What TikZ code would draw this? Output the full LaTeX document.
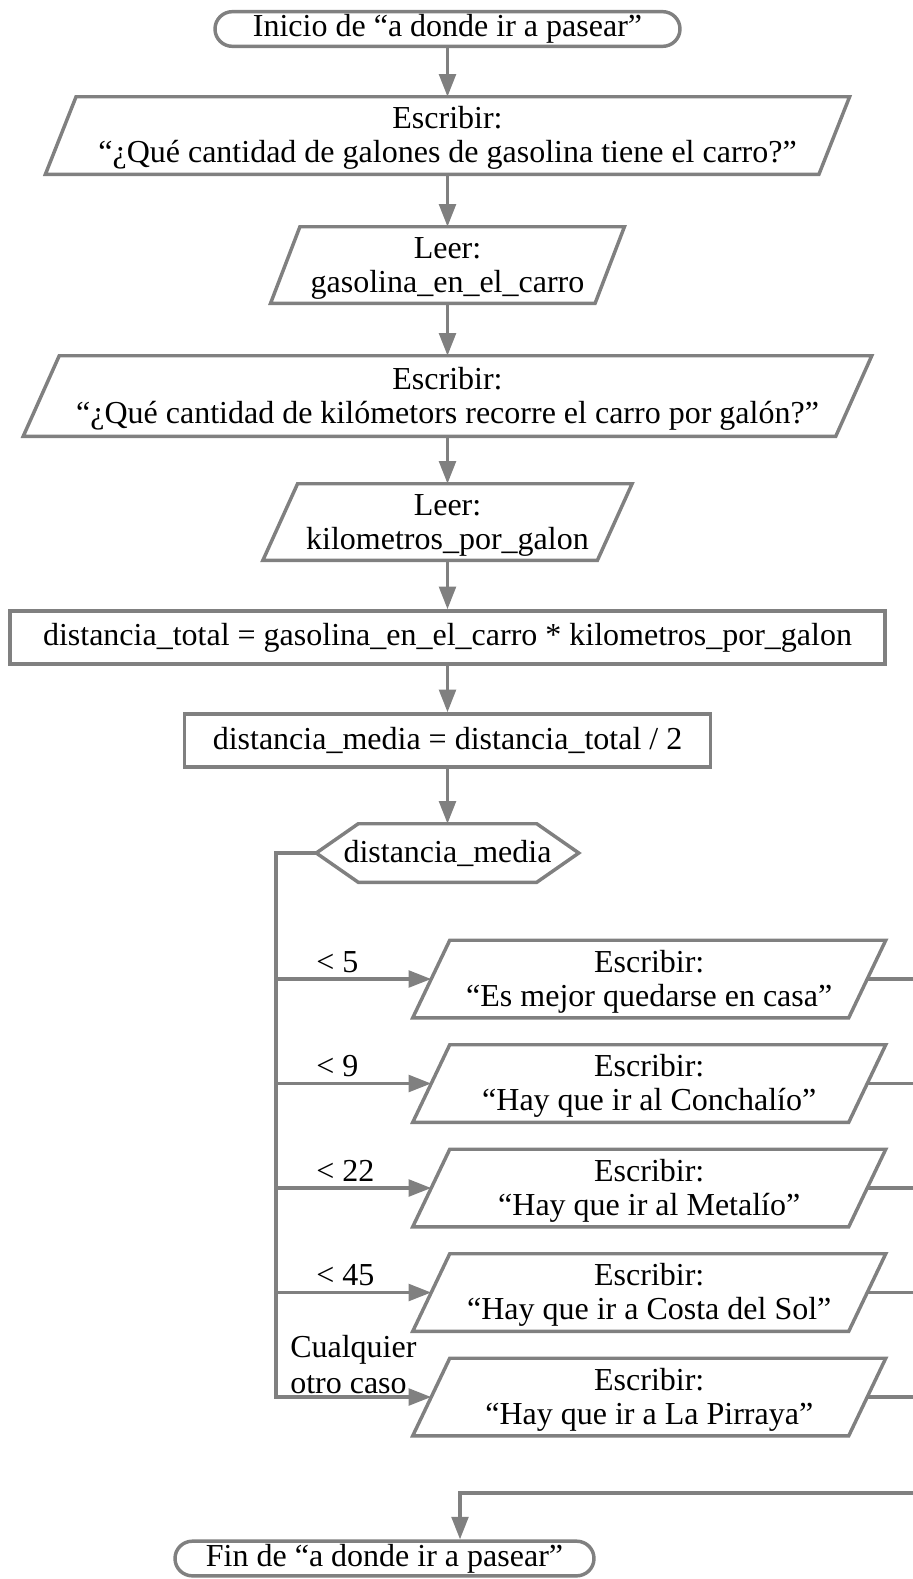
\documentclass[tikz,border=0pt]{standalone}
\usepackage{fontspec}
\setmainfont{Liberation Serif}
\usetikzlibrary{arrows.meta,calc}
\definecolor{lc}{RGB}{128,128,128}
\newcommand{\slantbox}[2]{\draw[shapeline] ([xshift=#2]#1.north west) -- ([xshift=#2]#1.north east) -- ([xshift=-#2]#1.south east) -- ([xshift=-#2]#1.south west) -- cycle;}
\newcommand{\hexbox}[2]{\draw[shapeline] (#1.west) -- ([xshift=#2]#1.north west) -- ([xshift=-#2]#1.north east) -- (#1.east) -- ([xshift=-#2]#1.south east) -- ([xshift=#2]#1.south west) -- cycle;}
\newcommand{\fl}{\rule{0pt}{20.5pt}}
\tikzset{
  txt/.style={font=\fontsize{24pt}{25.5pt}\selectfont, text=black, align=center, inner sep=0pt},
  term/.style={txt, draw=lc, line width=2.6pt, rounded corners=13pt, minimum height=26pt},
  procbox/.style={txt, draw=lc, line width=2.6pt, minimum height=39.75pt},
  iobox/.style={txt, minimum height=57.75pt},
  casebox/.style={txt, minimum width=326.6pt, minimum height=57.75pt},
  shapeline/.style={draw=lc, line width=2.6pt},
  conn/.style={draw=lc, line width=2.6pt},
  arr/.style={conn, -{Triangle[length=17pt,width=12.5pt]}},
  lbl/.style={font=\fontsize{24pt}{27pt}\selectfont, text=black, inner sep=0pt, align=left},
}
\begin{document}
\begin{tikzpicture}[x=0.75pt,y=-0.75pt]
\useasboundingbox (0,0) rectangle (913,1579);
\clip (0,0) rectangle (913,1579);

\node[term, minimum width=348.75pt] (start) at (447.5,29) {Inicio de “a donde ir a pasear”};

\node[iobox, minimum width=579.75pt] (p1) at (447.5,135.5) {\fl Escribir:\\“¿Qué cantidad de galones de gasolina tiene el carro?”};
\slantbox{p1}{11.5pt}

\node[iobox, minimum width=243pt, minimum height=57pt] (r1) at (447.5,265) {\fl Leer:\\gasolina\_en\_el\_carro};
\slantbox{r1}{11pt}

\node[iobox, minimum width=609pt, minimum height=60pt] (p2) at (447.5,396) {\fl Escribir:\\“¿Qué cantidad de kilómetors recorre el carro por galón?”};
\slantbox{p2}{13.5pt}

\node[iobox, minimum width=250.5pt, minimum height=57pt] (r2) at (447.5,522) {\fl Leer:\\kilometros\_por\_galon};
\slantbox{r2}{13pt}

\node[procbox, minimum width=656.25pt] (a1) at (447.5,637.5) {distancia\_total = gasolina\_en\_el\_carro * kilometros\_por\_galon};
\node[procbox, minimum width=394.5pt] (a2) at (447.5,740.5) {distancia\_media = distancia\_total / 2};

\node[txt, minimum width=196.5pt, minimum height=43.5pt] (hex) at (447.5,853) {distancia\_media};
\hexbox{hex}{31.5pt}

\node[casebox] (c1) at (649.25,979) {\fl Escribir:\\“Es mejor quedarse en casa”};
\slantbox{c1}{13.875pt}
\node[casebox] (c2) at (649.25,1083.5) {\fl Escribir:\\“Hay que ir al Conchalío”};
\slantbox{c2}{13.875pt}
\node[casebox] (c3) at (649.25,1188) {\fl Escribir:\\“Hay que ir al Metalío”};
\slantbox{c3}{13.875pt}
\node[casebox] (c4) at (649.25,1292.5) {\fl Escribir:\\“Hay que ir a Costa del Sol”};
\slantbox{c4}{13.875pt}
\node[casebox] (c5) at (649.25,1397) {\fl Escribir:\\“Hay que ir a La Pirraya”};
\slantbox{c5}{13.875pt}

\node[term, minimum width=314.25pt, minimum height=26pt] (end) at (384.5,1558.5) {Fin de “a donde ir a pasear”};

% labels
\node[lbl, anchor=base west] (l1) at (316,972) {\textless{} 5};
\node[lbl, anchor=base west] (l2) at (316,1076.5) {\textless{} 9};
\node[lbl, anchor=base west] (l3) at (316,1181) {\textless{} 22};
\node[lbl, anchor=base west] (l4) at (316,1285.5) {\textless{} 45};
\node[lbl, anchor=south west] (l5) at (290,1394) {Cualquier\\otro caso};

% main flow
\draw[arr] (start.south) -- (p1.north);
\draw[arr] (p1.south) -- (r1.north);
\draw[arr] (r1.south) -- (p2.north);
\draw[arr] (p2.south) -- (r2.north);
\draw[arr] (r2.south) -- (a1.north);
\draw[arr] (a1.south) -- (a2.north);
\draw[arr] (a2.south) -- (hex.north);

% branches
\coordinate (L) at (276,853);
\draw[arr] (hex.west) -- (L) |- (c5.west);
\draw[arr] (L |- c1.west) -- (c1.west);
\draw[arr] (L |- c2.west) -- (c2.west);
\draw[arr] (L |- c3.west) -- (c3.west);
\draw[arr] (L |- c4.west) -- (c4.west);

% merge
\coordinate (R) at (916,1493);
\coordinate (M) at (460,1493);
\draw[conn] (c1.east) -- (c1.east -| R);
\draw[conn] (c2.east) -- (c2.east -| R);
\draw[conn] (c3.east) -- (c3.east -| R);
\draw[conn] (c4.east) -- (c4.east -| R);
\draw[conn] (c5.east) -- (c5.east -| R);
\draw[conn] (R |- c1.east) -- (R);
\draw[arr] (R) -- (M) -- (M |- end.north);
\end{tikzpicture}
\end{document}
